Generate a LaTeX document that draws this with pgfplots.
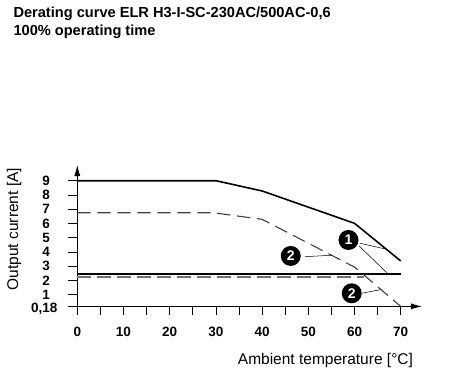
\documentclass[border=0pt]{standalone}
\usepackage{pgfplots}
\pgfplotsset{compat=1.18}
\usetikzlibrary{arrows.meta}
\usepackage{fontspec}
\setmainfont{Liberation Sans}

\begin{document}
\begin{tikzpicture}
% page frame in pixels of the reference (axis corner at 0,0)
\path[use as bounding box] (-77.3pt,-64.6pt) rectangle (384.7pt,306.4pt);

\node[anchor=base west,font=\fontsize{14.6}{16}\selectfont\bfseries] at (-67.3pt,289.1pt) {Derating curve ELR H3-I-SC-230AC/500AC-0,6};
\node[anchor=base west,font=\fontsize{14.6}{16}\selectfont\bfseries] at (-67.3pt,270.4pt) {100\% operating time};

\begin{axis}[
    at={(0pt,0pt)}, anchor=south west,
    x=4.62pt, y=14.25pt,
    xmin=0, xmax=74.6,
    ymin=0.18, ymax=10.1,
    axis lines=left,
    axis line style={line width=0.8pt,-{Latex[length=11pt,width=6pt]}},
    tick align=outside,
    major tick length=9pt, minor tick length=9pt,
    tick style={black,line width=0.7pt},
    xtick={0,10,...,70},
    minor xtick={5,15,...,65},
    ytick={0.18,1,2,...,9},
    yticklabels={{\smash{\raisebox{-6.5pt}{0,18}}\kern-7.7pt},1,2,3,4,5,6,7,8,9},
    /pgf/number format/assume math mode=true,
    ticklabel style={font=\fontsize{13.5}{13.5}\selectfont\bfseries},
    xticklabel style={anchor=north,inner sep=0pt,yshift=-11.5pt},
    yticklabel style={anchor=east,inner sep=0pt,xshift=-18.3pt},
    xlabel={Ambient temperature [°C]},
    ylabel={Output current [A]},
    label style={font=\fontsize{15.5}{16}\selectfont},
    xlabel style={anchor=base,at={(axis description cs:0.72,-0.414)}},
    ylabel style={anchor=base,rotate=0,at={(axis description cs:-0.172,0.547)}},
    clip=false,
]
% curve 1, solid
\addplot[black,line width=1.6pt] coordinates {
(0,9) (30,9) (40,8.28) (60,6.01) (70,3.37)
};
\addplot[black,line width=1.6pt] coordinates {
(0,2.45) (70,2.45)
};
% curve 2, dashed
\addplot[black!75,line width=1.1pt,dash pattern=on 13.3pt off 6.7pt] coordinates {
(0,6.75) (29.5,6.75) (40,6.29) (60.1,2.92) (70,0.18)
};
\addplot[black!55,line width=2pt,dash pattern=on 13.3pt off 6.7pt] coordinates {
(0,2.26) (62,2.26)
};
% callouts
\draw[black,line width=0.5pt] (axis cs:61.2,4.61) -- (axis cs:66.8,4.2);
\draw[black,line width=0.5pt] (axis cs:61.0,4.42) -- (axis cs:67.3,2.45);
\draw[black,line width=0.5pt] (axis cs:49.3,3.67) -- (axis cs:55.1,3.77);
\draw[black,line width=0.5pt] (axis cs:61.6,1.10) -- (axis cs:65.5,1.35);
\node[circle,fill=black,text=white,inner sep=0pt,minimum size=20pt,font=\fontsize{14}{14}\selectfont\bfseries] at (axis cs:58.7,4.84) {1};
\node[circle,fill=black,text=white,inner sep=0pt,minimum size=20pt,font=\fontsize{14}{14}\selectfont\bfseries] at (axis cs:46.2,3.72) {2};
\node[circle,fill=black,text=white,inner sep=0pt,minimum size=20pt,font=\fontsize{14}{14}\selectfont\bfseries] at (axis cs:59.4,1.10) {2};
\end{axis}
\end{tikzpicture}
\end{document}
